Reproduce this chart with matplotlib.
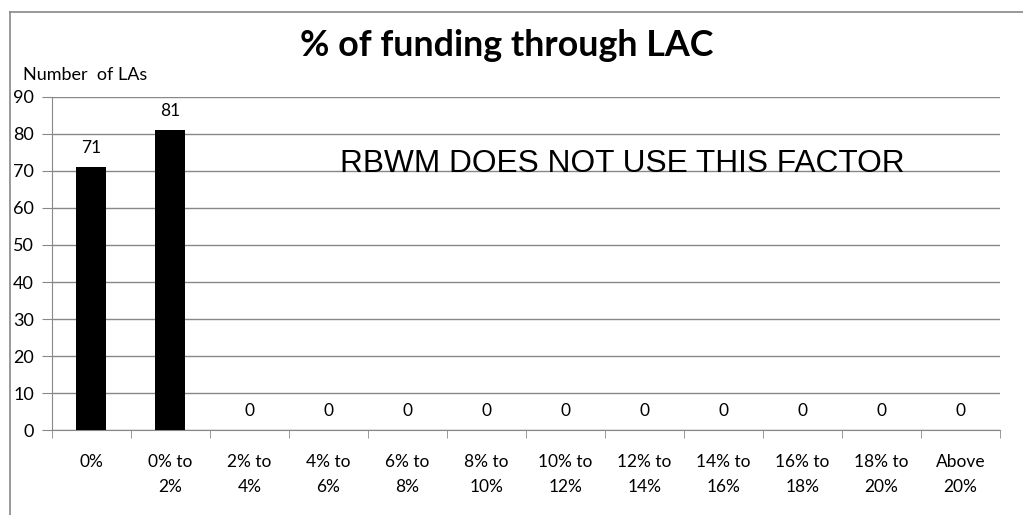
import numpy as np
import matplotlib.pyplot as plt
from matplotlib.lines import Line2D

categories = ["0%", "0% to\n2%", "2% to\n4%", "4% to\n6%", "6% to\n8%", "8% to\n10%",
              "10% to\n12%", "12% to\n14%", "14% to\n16%", "16% to\n18%", "18% to\n20%",
              "Above\n20%"]
counts = [71, 81, 0, 0, 0, 0, 0, 0, 0, 0, 0, 0]
y_ticks = [0, 10, 20, 30, 40, 50, 60, 70, 80, 90]

plt.rcParams['font.family'] = ['Lato', 'DejaVu Sans']

fig = plt.figure(figsize=(10.23, 5.15), dpi=100)
ax = fig.add_axes([0.0508, 0.165, 0.9267, 0.6467])

x = np.arange(len(categories))
bars = ax.bar(x, counts, width=0.38, color='black', zorder=3)

for xi, v in zip(x, counts):
    ax.text(xi, v + 3, str(v), ha='center', va='bottom', fontsize=12.5)

ax.set_xlim(-0.5, len(categories) - 0.5)
ax.set_ylim(0, 90)
ax.set_yticks(y_ticks)
ax.tick_params(axis='y', labelsize=13, length=7, color='#888888', pad=6)
ax.set_xticks(x)
ax.set_xticklabels(categories, fontsize=12.5, linespacing=1.75)
ax.tick_params(axis='x', length=0, pad=17)
# category boundary ticks
ax.set_xticks(np.arange(-0.5, len(categories)), minor=True)
ax.tick_params(axis='x', which='minor', length=6, color='#888888')

ax.grid(axis='y', color='#888888', linewidth=1, zorder=0)
for s in ['top', 'right']:
    ax.spines[s].set_visible(False)
ax.spines['left'].set_color('#888888')
ax.spines['bottom'].set_color('#888888')

ax.text(0.602, 0.80, "RBWM DOES NOT USE THIS FACTOR", transform=ax.transAxes,
        ha='center', va='center', fontsize=22.8, family=['Liberation Sans', 'DejaVu Sans'])

fig.text(0.495, 0.912, "% of funding through LAC", ha='center', va='center',
         fontsize=25.8, fontweight='bold')
fig.text(0.022, 0.855, "Number  of LAs", ha='left', va='center', fontsize=13)

# outer chart frame
fig.add_artist(Line2D([0.0098, 1.0], [0.9767, 0.9767], color='#888888', linewidth=1.2))
fig.add_artist(Line2D([0.0098, 0.0098], [0.0, 0.9767], color='#888888', linewidth=1.2))

fig.savefig("out.png", dpi=100)
